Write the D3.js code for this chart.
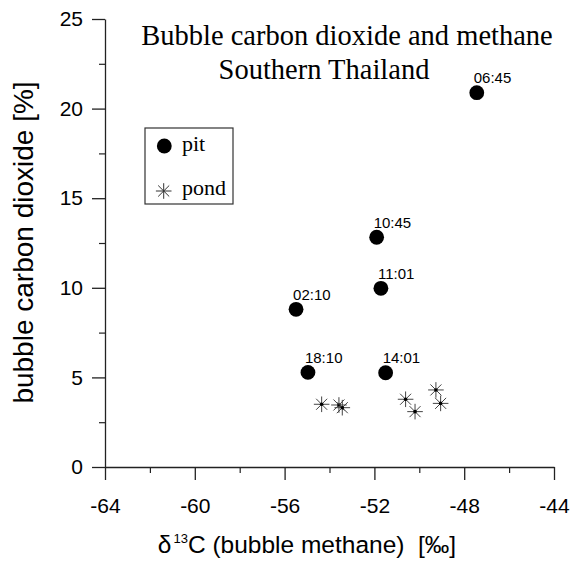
<!DOCTYPE html>
<html>
<head>
<meta charset="utf-8">
<script src="https://cdn.jsdelivr.net/npm/d3@7"></script>
<style>
  html, body { margin: 0; padding: 0; background: #fff; }
  svg { display: block; }
</style>
</head>
<body>
<div id="chart"></div>
<script>
// ---- data ----
const xTicks = [-64, -60, -56, -52, -48, -44];
const xMinorTicks = [-62, -58, -54, -50, -46];
const yTicks = [0, 5, 10, 15, 20, 25];
const yMinorTicks = [2.5, 7.5, 12.5, 17.5, 22.5];

const pitLabels = ["06:45", "10:45", "11:01", "02:10", "18:10", "14:01"];
const pitX = [-47.44, -51.90, -51.71, -55.49, -54.96, -51.50];
const pitY = [20.89, 12.82, 9.97, 8.80, 5.28, 5.26];

const pondX = [-54.35, -53.58, -53.43, -50.61, -50.19, -49.26, -49.05];
const pondY = [3.50, 3.46, 3.31, 3.78, 3.09, 4.30, 3.55];

const legendNames = ["pit", "pond"];
const titleLines = ["Bubble carbon dioxide and methane", "Southern Thailand"];

// ---- layout ----
const W = 571, H = 561;
const svg = d3.select("#chart").append("svg").attr("width", W).attr("height", H);
svg.append("rect").attr("width", W).attr("height", H).attr("fill", "#fff");

const x = d3.scaleLinear().domain([-64, -44]).range([105, 554]);
const y = d3.scaleLinear().domain([0, 25]).range([467, 19]);

const sans = "'Liberation Sans', Arial, Helvetica, sans-serif";
const serif = "'Liberation Serif', 'Times New Roman', Times, serif";
const axisColor = "#222";

// x axis (major)
const gx = svg.append("g").attr("transform", `translate(0,${y(0)})`)
  .call(d3.axisBottom(x).tickValues(xTicks).tickSize(13).tickSizeOuter(0).tickPadding(18)
    .tickFormat(d => d3.format("d")(d).replace("\u2212", "-")));
gx.select(".domain").attr("stroke", axisColor).attr("stroke-width", 1.3);
gx.selectAll(".tick line").attr("stroke", axisColor).attr("stroke-width", 1.3);
gx.selectAll(".tick text").attr("font-family", sans).attr("font-size", 21).attr("fill", "#000");

// x axis (minor)
const gxm = svg.append("g").attr("transform", `translate(0,${y(0)})`)
  .call(d3.axisBottom(x).tickValues(xMinorTicks).tickSize(6).tickSizeOuter(0).tickFormat(""));
gxm.select(".domain").remove();
gxm.selectAll(".tick line").attr("stroke", axisColor).attr("stroke-width", 1.2);

// y axis (major)
const gy = svg.append("g").attr("transform", `translate(${x(-64)},0)`)
  .call(d3.axisLeft(y).tickValues(yTicks).tickSize(13).tickSizeOuter(0).tickPadding(9)
    .tickFormat(d3.format("d")));
gy.select(".domain").attr("stroke", axisColor).attr("stroke-width", 1.3);
gy.selectAll(".tick line").attr("stroke", axisColor).attr("stroke-width", 1.3);
gy.selectAll(".tick text").attr("font-family", sans).attr("font-size", 21).attr("fill", "#000");

// y axis (minor)
const gym = svg.append("g").attr("transform", `translate(${x(-64)},0)`)
  .call(d3.axisLeft(y).tickValues(yMinorTicks).tickSize(6).tickSizeOuter(0).tickFormat(""));
gym.select(".domain").remove();
gym.selectAll(".tick line").attr("stroke", axisColor).attr("stroke-width", 1.2);

// axis titles
svg.append("text")
  .attr("transform", "translate(33,242.5) rotate(-90)")
  .attr("text-anchor", "middle")
  .attr("font-family", sans).attr("font-size", 28).attr("fill", "#000")
  .text("bubble carbon dioxide [%]");

const xt = svg.append("text")
  .attr("x", 307).attr("y", 553)
  .attr("text-anchor", "middle")
  .attr("font-family", sans).attr("font-size", 24.5).attr("fill", "#000");
xt.append("tspan").text("\u03B4");
xt.append("tspan").attr("font-size", 13).attr("dy", -10).attr("dx", 2).text("13");
xt.append("tspan").attr("dy", 10).text("C (bubble methane)\u00A0 [\u2030]");

// title
const tpos = [[347, 45], [324, 79]];
svg.selectAll("text.title").data(titleLines).join("text")
  .attr("class", "title")
  .attr("x", (d, i) => tpos[i][0]).attr("y", (d, i) => tpos[i][1])
  .attr("text-anchor", "middle")
  .attr("font-family", serif).attr("font-size", 28.5).attr("fill", "#000")
  .text(d => d);

// star symbol path (8 arms)
function starPath(r) {
  const p = d3.path();
  for (let k = 0; k < 4; k++) {
    const a = k * Math.PI / 4;
    p.moveTo(-r * Math.cos(a), -r * Math.sin(a));
    p.lineTo(r * Math.cos(a), r * Math.sin(a));
  }
  return p.toString();
}

// pond stars
const pond = pondX.map((v, i) => ({ x: v, y: pondY[i] }));
const ps = svg.append("g").selectAll("g").data(pond).join("g")
  .attr("transform", d => `translate(${x(d.x)},${y(d.y)})`);
ps.append("path").attr("d", starPath(7.8)).attr("stroke", "#444").attr("stroke-width", 1).attr("fill", "none");
ps.append("circle").attr("r", 1.8).attr("fill", "#000");

// pit circles
const pit = pitX.map((v, i) => ({ x: v, y: pitY[i], label: pitLabels[i] }));
svg.append("g").selectAll("circle").data(pit).join("circle")
  .attr("cx", d => x(d.x)).attr("cy", d => y(d.y)).attr("r", 7.4).attr("fill", "#000");
svg.append("g").selectAll("text").data(pit).join("text")
  .attr("x", d => x(d.x) - 3).attr("y", d => y(d.y) - 9.5)
  .attr("font-family", sans).attr("font-size", 15).attr("fill", "#000")
  .text(d => d.label);

// legend
const lg = svg.append("g");
lg.append("rect").attr("x", 145).attr("y", 128).attr("width", 88).attr("height", 76)
  .attr("fill", "#fff").attr("stroke", "#333").attr("stroke-width", 1.2);
lg.append("circle").attr("cx", 164.3).attr("cy", 146).attr("r", 7.4).attr("fill", "#000");
lg.append("path").attr("transform", "translate(163.7,191)").attr("d", starPath(7.8))
  .attr("stroke", "#333").attr("stroke-width", 1).attr("fill", "none");
lg.selectAll("text").data(legendNames).join("text")
  .attr("x", 182).attr("y", (d, i) => i === 0 ? 151 : 195)
  .attr("font-family", serif).attr("font-size", 22).attr("fill", "#000")
  .text(d => d);
</script>
</body>
</html>
